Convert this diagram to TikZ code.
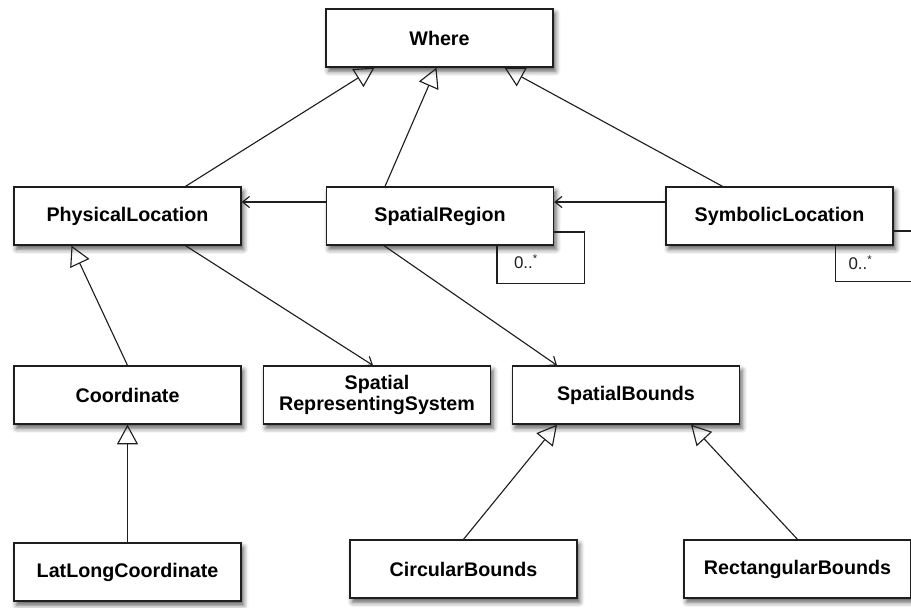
\documentclass[tikz,border=0pt]{standalone}
\usepackage{fontspec}
\setmainfont{Liberation Sans}
\usepackage{tikz}
\usetikzlibrary{arrows.meta,calc,shadows.blur}
\definecolor{cizgiSiyah}{HTML}{1E1E1E}
\tikzset{
  classBox/.style={draw=cizgiSiyah,line width=0.9pt,fill=white,minimum width=5.675cm,minimum height=1.45cm,inner sep=2pt,align=center,
    font=\fontsize{14}{15.5}\selectfont\bfseries,
    blur shadow={shadow xshift=1.8pt,shadow yshift=-3pt,shadow blur radius=3.5pt,shadow opacity=65}},
  genArrow/.style={cizgiSiyah,line width=0.8pt,-{Triangle[open,length=14pt,width=15pt]}},
  assocArrow/.style={cizgiSiyah,line width=0.8pt,-{Straight Barb[length=5pt,width=8pt]}},
  multLabel/.style={font=\fontsize{12}{14}\selectfont,text=cizgiSiyah}
}

\begin{document}
\begin{tikzpicture}[x=0.025cm,y=-0.025cm]
\useasboundingbox (0,0) rectangle (911,607);
\node[classBox] (where) at (439.5,38) {Where};
\node[classBox] (phys) at (127.5,216) {PhysicalLocation};
\node[classBox] (sreg) at (440,216) {SpatialRegion};
\node[classBox] (symb) at (779.5,216) {SymbolicLocation};
\node[classBox] (coord) at (127.5,395) {Coordinate};
\node[classBox] (srs) at (377,395) {Spatial\\RepresentingSystem};
\node[classBox] (sbounds) at (626,395) {SpatialBounds};
\node[classBox] (latlong) at (127.5,572) {LatLongCoordinate};
\node[classBox] (circ) at (463.5,569) {CircularBounds};
\node[classBox] (rect) at (797.5,569) {RectangularBounds};
\draw[genArrow] ($(phys.north)+(58,0)$) -- ($(where.south)+(-65,0)$);
\draw[genArrow] ($(sreg.north)+(-55,0)$) -- ($(where.south)+(-3,0)$);
\draw[genArrow] ($(symb.north)+(-57,0)$) -- ($(where.south)+(65,0)$);
\draw[genArrow] (coord.north) -- ($(phys.south)+(-56,0)$);
\draw[genArrow] (latlong.north) -- (coord.south);
\draw[genArrow] (circ.north) -- ($(sbounds.south)+(-69,0)$);
\draw[genArrow] (rect.north) -- ($(sbounds.south)+(65,0)$);
\draw[assocArrow] ($(sreg.west)+(0,-14)$) -- ($(phys.east)+(0,-14)$);
\draw[assocArrow] ($(symb.west)+(0,-14)$) -- ($(sreg.east)+(0,-14)$);
\draw[assocArrow] ($(phys.south)+(58,0)$) -- ($(srs.north)+(-4,0)$);
\draw[assocArrow] ($(sreg.south)+(-56,0)$) -- ($(sbounds.north)+(-69,0)$);
\draw[cizgiSiyah,line width=0.8pt] ($(sreg.east)+(0,16)$) -- ++(30,0) |- ($(sreg.south)+(57,38)$) -- ($(sreg.south)+(57,0)$);
\node[multLabel] (sregMult) at ($(sreg.south)+(86,16)$) {0..\textsuperscript{*}};
\draw[cizgiSiyah,line width=0.8pt] ($(symb.east)+(0,15)$) -- ++(30,0) |- ($(symb.south)+(56,36)$) -- ($(symb.south)+(56,0)$);
\node[multLabel] (symbMult) at ($(symb.south)+(81,17)$) {0..\textsuperscript{*}};
\end{tikzpicture}
\end{document}
